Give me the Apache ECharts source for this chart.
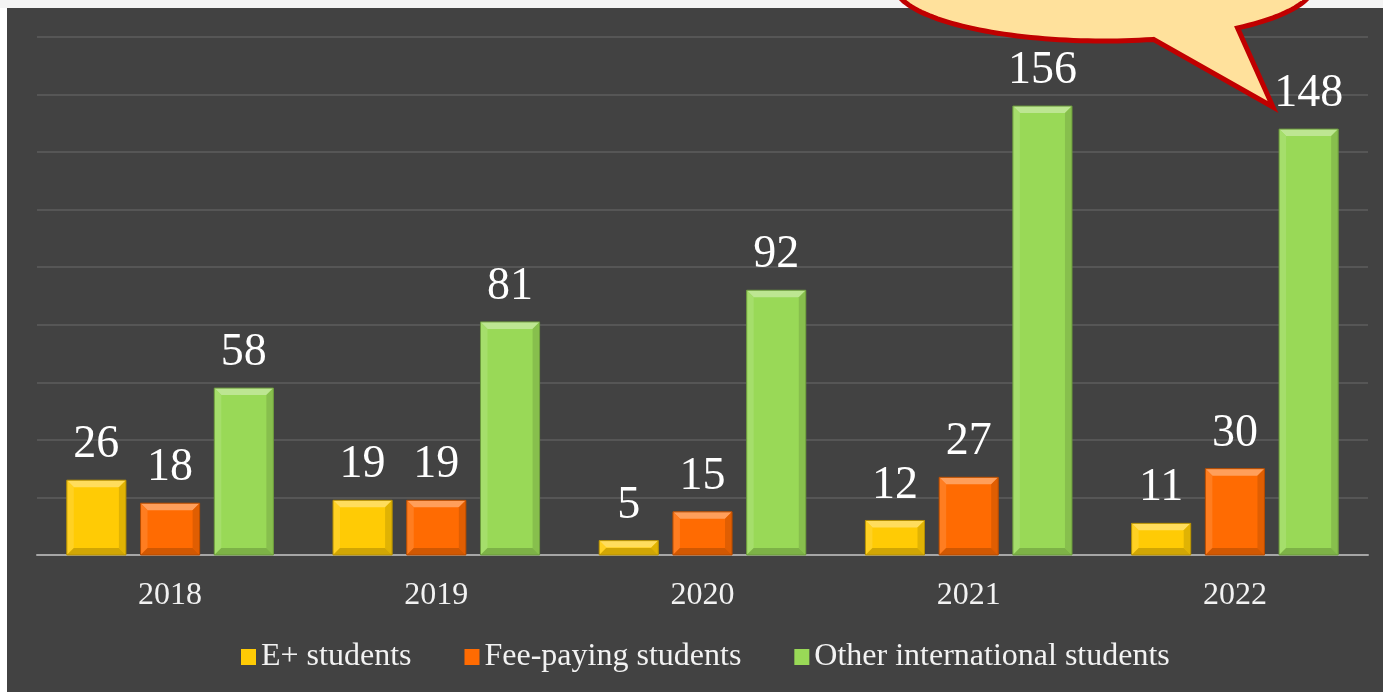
<!DOCTYPE html>
<html lang="en">

<head>
  <meta charset="UTF-8">
  <title>Students per year</title>
  <style>
    html, body { margin: 0; padding: 0; background: #fff; overflow: hidden; }
    #chart { width: 1383px; height: 692px; }
  </style>
</head>

<body>
  <div id="chart"></div>
  <script src="https://cdn.jsdelivr.net/npm/echarts@6/dist/echarts.min.js"></script>
  <script>
    // data
    var years = ['2018', '2019', '2020', '2021', '2022'];
    var ePlus = [26, 19, 5, 12, 11];
    var feePaying = [18, 19, 15, 27, 30];
    var otherIntl = [58, 81, 92, 156, 148];

    var serif = "'Liberation Serif', 'Times New Roman', serif";

    // mix a hex colour with white (amt>0) or black (amt<0)
    function shade(hex, amt) {
      var n = parseInt(hex.slice(1), 16);
      var r = n >> 16, g = (n >> 8) & 255, b = n & 255;
      var t = amt > 0 ? 255 : 0, p = Math.abs(amt);
      r = Math.round(r + (t - r) * p);
      g = Math.round(g + (t - g) * p);
      b = Math.round(b + (t - b) * p);
      return 'rgb(' + r + ',' + g + ',' + b + ')';
    }

    // bevelled bar, offset inside the category band
    function bevelBar(offset, color) {
      return function (params, api) {
        var idx = api.value(0);
        var val = api.value(1);
        var top = api.coord([idx, val]);
        var base = api.coord([idx, 0]);
        var band = api.size([1, 0])[0];
        var w = band * 0.222;
        var xc = top[0] + band * offset;
        var x0 = xc - w / 2, x1 = xc + w / 2;
        var y0 = top[1], y1 = base[1];
        var b = Math.min(7, (y1 - y0) / 2);
        return {
          type: 'group',
          children: [
            { type: 'rect', shape: { x: x0, y: y0, width: w, height: y1 - y0 }, style: { fill: color } },
            { type: 'polygon', shape: { points: [[x0, y0], [x1, y0], [x1 - b, y0 + b], [x0 + b, y0 + b]] }, style: { fill: shade(color, 0.35) } },
            { type: 'polygon', shape: { points: [[x0, y0], [x0 + b, y0 + b], [x0 + b, y1 - b], [x0, y1]] }, style: { fill: shade(color, 0.12) } },
            { type: 'polygon', shape: { points: [[x1, y0], [x1 - b, y0 + b], [x1 - b, y1 - b], [x1, y1]] }, style: { fill: shade(color, -0.12) } },
            { type: 'polygon', shape: { points: [[x0, y1], [x0 + b, y1 - b], [x1 - b, y1 - b], [x1, y1]] }, style: { fill: shade(color, -0.18) } },
            { type: 'rect', shape: { x: x0, y: y0, width: w, height: y1 - y0 }, style: { fill: 'none', stroke: shade(color, -0.3), lineWidth: 1 } },
            {
              type: 'text', x: xc, y: y0 - 35,
              style: { text: String(val), fill: '#ffffff', font: '46px ' + serif, align: 'center', verticalAlign: 'middle' }
            }
          ]
        };
      };
    }

    function toPairs(arr) {
      return arr.map(function (v, i) { return [i, v]; });
    }

    // outline of the callout: ellipse arc plus a tail to the 2022 label
    function calloutPoints() {
      var cx = 1104, cy = -16, rx = 210, ry = 57;
      var a0 = 76.4, a1 = 410.5;
      var pts = [];
      for (var a = a0; a <= a1; a += 2) {
        var r = a * Math.PI / 180;
        pts.push([cx + rx * Math.cos(r), cy + ry * Math.sin(r)]);
      }
      var r1 = a1 * Math.PI / 180;
      pts.push([cx + rx * Math.cos(r1), cy + ry * Math.sin(r1)]);
      pts.push([1273, 107]);
      return pts;
    }

    var chart = echarts.init(document.getElementById('chart'));

    var option = {
      backgroundColor: '#424242',
      animation: false,
      grid: { left: 37, right: 15, top: 37, bottom: 137 },
      legend: {
        left: 236,
        top: 636,
        itemWidth: 15,
        itemHeight: 16,
        itemGap: 53,
        icon: 'rect',
        textStyle: { color: '#f2f2f2', fontSize: 32, fontFamily: serif },
        data: ['E+ students', 'Fee-paying students', 'Other international students']
      },
      xAxis: {
        type: 'category',
        data: years,
        axisLine: { lineStyle: { color: '#a6a6a6', width: 2 } },
        axisTick: { show: false },
        axisLabel: { color: '#f2f2f2', fontSize: 32, fontFamily: serif, margin: 25 }
      },
      yAxis: {
        type: 'value',
        min: 0,
        max: 180,
        interval: 20,
        axisLine: { show: false },
        axisTick: { show: false },
        axisLabel: { show: false },
        splitLine: { lineStyle: { color: '#565656', width: 2 } }
      },
      series: [
        {
          name: 'E+ students', type: 'custom', renderItem: bevelBar(-0.277, '#FFCB05'),
          itemStyle: { color: '#FFCB05' }, encode: { x: 0, y: 1 }, data: toPairs(ePlus)
        },
        {
          name: 'Fee-paying students', type: 'custom', renderItem: bevelBar(0, '#FF6B02'),
          itemStyle: { color: '#FF6B02' }, encode: { x: 0, y: 1 }, data: toPairs(feePaying)
        },
        {
          name: 'Other international students', type: 'custom', renderItem: bevelBar(0.277, '#99D957'),
          itemStyle: { color: '#99D957' }, encode: { x: 0, y: 1 }, data: toPairs(otherIntl)
        }
      ],
      graphic: [
        { type: 'rect', left: 0, top: 0, z: 50, shape: { width: 1383, height: 8 }, style: { fill: '#f4f4f4' } },
        { type: 'rect', left: 0, top: 8, z: 50, shape: { width: 7, height: 684 }, style: { fill: '#ffffff' } },
        {
          type: 'polygon', z: 100,
          shape: { points: calloutPoints() },
          style: { fill: '#FFE19C', stroke: '#C00000', lineWidth: 5, lineJoin: 'miter' }
        }
      ]
    };
    chart.setOption(option);
  </script>
</body>

</html>
